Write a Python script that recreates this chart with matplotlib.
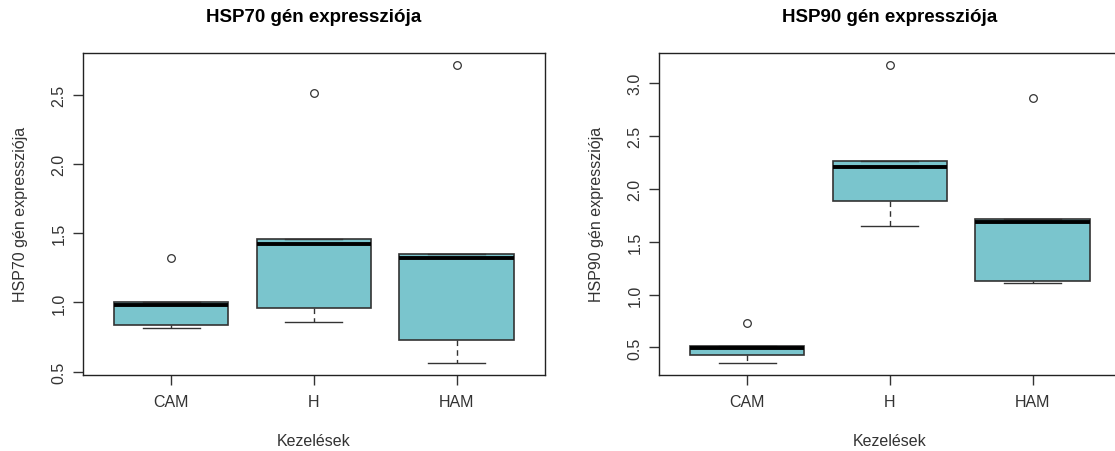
import numpy as np
import matplotlib
matplotlib.use('Agg')
import matplotlib.pyplot as plt

plt.rcParams['font.family'] = ['Liberation Sans', 'DejaVu Sans']

kezelesek = ['CAM', 'H', 'HAM']

# HSP70 - five number summaries
hsp70_whislo = [0.816, 0.860, 0.565]
hsp70_q1 = [0.838, 0.958, 0.725]
hsp70_med = [0.978, 1.424, 1.320]
hsp70_q3 = [1.000, 1.458, 1.353]
hsp70_whishi = [1.000, 1.458, 1.353]
hsp70_out = [[1.32], [2.51], [2.716]]

# HSP90
hsp90_whislo = [0.357, 1.648, 1.108]
hsp90_q1 = [0.430, 1.880, 1.127]
hsp90_med = [0.497, 2.207, 1.685]
hsp90_q3 = [0.513, 2.260, 1.716]
hsp90_whishi = [0.513, 2.260, 1.716]
hsp90_out = [[0.735], [3.17], [2.86]]

fill = '#7AC5CD'  # cadetblue3
ink = '#333333'


def draw(ax, whislo, q1, med, q3, whishi, out, title, ylabel, yticks):
    stats = []
    for i in range(len(kezelesek)):
        stats.append({'label': kezelesek[i], 'whislo': whislo[i], 'q1': q1[i],
                      'med': med[i], 'q3': q3[i], 'whishi': whishi[i],
                      'fliers': out[i]})
    ax.bxp(stats, positions=[1, 2, 3], widths=0.8, capwidths=0.4,
           patch_artist=True, showfliers=True,
           boxprops=dict(facecolor=fill, edgecolor=ink, linewidth=1.2),
           medianprops=dict(color='black', linewidth=2.8, solid_capstyle='butt'),
           whiskerprops=dict(color=ink, linewidth=1, linestyle=(0, (4, 3))),
           capprops=dict(color=ink, linewidth=1),
           flierprops=dict(marker='o', markerfacecolor='none', markeredgecolor=ink,
                           markersize=5.5, markeredgewidth=0.9))
    allv = np.concatenate([whislo, whishi, np.concatenate(out)])
    lo, hi = allv.min(), allv.max()
    pad = (hi - lo) * 0.04
    ax.set_ylim(lo - pad, hi + pad)
    ax.set_xlim(0.38, 3.62)
    ax.set_yticks(yticks)
    ax.set_yticklabels(['%.1f' % t for t in yticks], rotation=90, va='center')
    ax.tick_params(axis='both', direction='out', length=7, width=1, color=ink,
                   labelsize=11.5, labelcolor=ink)
    ax.tick_params(axis='x', pad=7)
    ax.tick_params(axis='y', pad=5)
    for s in ax.spines.values():
        s.set_color('#222222')
        s.set_linewidth(1)
    ax.set_title(title, fontsize=13.5, fontweight='bold', pad=23)
    ax.set_xlabel('Kezelések', fontsize=11.5, color=ink)
    ax.set_ylabel(ylabel, fontsize=11.5, color=ink)
    ax.xaxis.set_label_coords(0.5, -0.182)
    ax.yaxis.set_label_coords(-0.12, 0.5)


fig = plt.figure(figsize=(11.15, 4.52), dpi=100)
ax1 = fig.add_axes([0.0744, 0.1692, 0.4143, 0.7113])
ax2 = fig.add_axes([0.591, 0.1692, 0.4143, 0.7113])

draw(ax1, hsp70_whislo, hsp70_q1, hsp70_med, hsp70_q3, hsp70_whishi, hsp70_out,
     'HSP70 gén expressziója', 'HSP70 gén expressziója', [0.5, 1.0, 1.5, 2.0, 2.5])
draw(ax2, hsp90_whislo, hsp90_q1, hsp90_med, hsp90_q3, hsp90_whishi, hsp90_out,
     'HSP90 gén expressziója', 'HSP90 gén expressziója', [0.5, 1.0, 1.5, 2.0, 2.5, 3.0])

fig.savefig('out.png', dpi=100)
